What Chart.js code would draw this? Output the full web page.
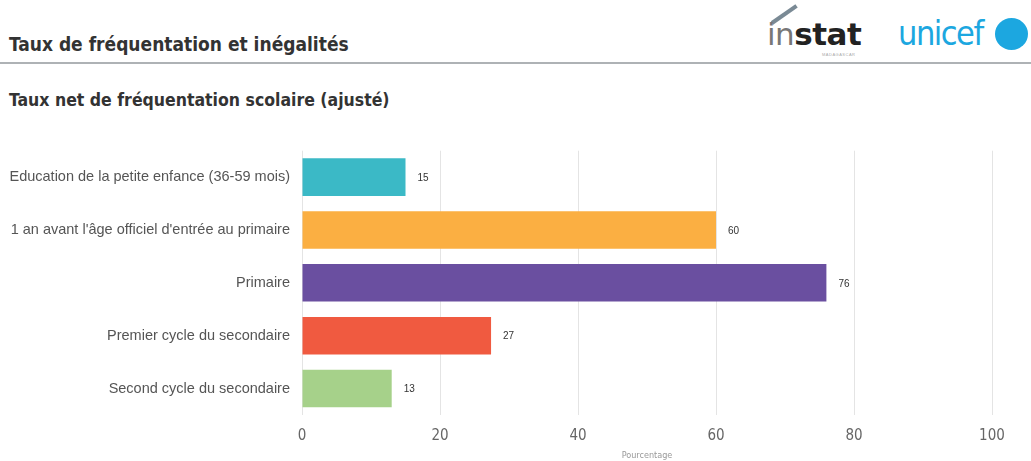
<!DOCTYPE html>
<html>
<head>
<meta charset="utf-8">
<script src="https://cdn.jsdelivr.net/npm/chart.js@4/dist/chart.umd.min.js"></script>
<style>
  html, body { margin: 0; padding: 0; background: #fff; }
  body { width: 1031px; height: 461px; position: relative; overflow: hidden; font-family: "Liberation Sans", Arial, sans-serif; }
  .titre { position: absolute; left: 9px; top: 33px; font: bold 19px "DejaVu Sans Condensed", sans-serif; color: #333; }
  .regle { position: absolute; left: 0; right: 0; top: 62px; height: 2px; background: #aeb2b5; }
  .soustitre { position: absolute; left: 9px; top: 90px; font: bold 17.5px "DejaVu Sans Condensed", sans-serif; color: #333; }
  .instat { position: absolute; left: 767px; top: 16px; font: bold 31px "DejaVu Sans", sans-serif; color: #222; letter-spacing: -0.5px; }
  .instat span { font-weight: normal; color: #777; }
  .instat small { position: absolute; left: 55px; top: 36px; font: 4px sans-serif; color: #aaa; letter-spacing: 0.5px; }
  .trait { position: absolute; left: 772px; top: 21px; width: 30px; height: 4px; background: #7a8a95; transform: rotate(-35deg); transform-origin: left center; }
  .unicef { position: absolute; left: 898px; top: 13px; font: 34px "DejaVu Sans Condensed", sans-serif; color: #1ca7e0; letter-spacing: -1.5px; }
  .embleme { position: absolute; left: 995px; top: 18px; width: 33px; height: 32px; border-radius: 50%; background: #1ca7e0; }
  #zone { position: absolute; left: 0; top: 130px; width: 1031px; height: 331px; }
</style>
</head>
<body>
<div class="titre">Taux de fréquentation et inégalités</div>
<div class="regle"></div>
<div class="soustitre">Taux net de fréquentation scolaire (ajusté)</div>
<div class="trait"></div>
<div class="instat"><span>in</span>stat<small>MADAGASCAR</small></div>
<div class="unicef">unicef</div>
<div class="embleme"></div>
<div id="zone"><canvas id="graphe"></canvas></div>
<script>
const categories = [
  'Education de la petite enfance (36-59 mois)',
  "1 an avant l'âge officiel d'entrée au primaire",
  'Primaire',
  'Premier cycle du secondaire',
  'Second cycle du secondaire'
];
const valeurs = [15, 60, 76, 27.4, 13];
const etiquettes = ['15', '60', '76', '27', '13'];
const couleurs = ['#3bb9c6', '#fbaf42', '#6a4fa0', '#f05a40', '#a6d18a'];
const ticksX = [0, 20, 40, 60, 80, 100];

// Valeurs affichées à droite des barres
const etiquettesBarres = {
  id: 'etiquettesBarres',
  afterDatasetsDraw(chart) {
    const ctx = chart.ctx;
    const meta = chart.getDatasetMeta(0);
    ctx.save();
    ctx.font = '10px "Liberation Sans", sans-serif';
    ctx.fillStyle = '#333';
    ctx.textBaseline = 'middle';
    meta.data.forEach(function(bar, i) {
      ctx.fillText(etiquettes[i], bar.x + 12, bar.y + 1);
    });
    ctx.restore();
  }
};

const ctx = document.getElementById('graphe').getContext('2d');
new Chart(ctx, {
  type: 'bar',
  data: {
    labels: categories,
    datasets: [{
      data: valeurs,
      backgroundColor: couleurs,
      borderWidth: 0,
      categoryPercentage: 1,
      barPercentage: 0.71
    }]
  },
  options: {
    indexAxis: 'y',
    responsive: true,
    maintainAspectRatio: false,
    animation: false,
    layout: { padding: { top: 18, right: 39, left: 0, bottom: 0 } },
    plugins: {
      legend: { display: false },
      tooltip: { enabled: false }
    },
    scales: {
      x: {
        min: 0,
        max: 100,
        afterBuildTicks: function(scale) {
          scale.ticks = ticksX.map(v => ({ value: v }));
        },
        grid: { color: '#e4e4e4', drawTicks: false, lineWidth: 1 },
        border: { display: false },
        ticks: {
          padding: 12,
          color: '#666',
          font: { family: '"DejaVu Sans Condensed", sans-serif', size: 15 }
        },
        title: {
          display: true,
          text: 'Pourcentage',
          color: '#999',
          padding: { top: 2, bottom: 0 },
          font: { family: '"DejaVu Sans Condensed", sans-serif', size: 9 }
        },
        afterFit: function(scale) { scale.height = 46; }
      },
      y: {
        grid: { display: false, drawTicks: false },
        border: { display: false },
        ticks: {
          padding: 12,
          color: '#555',
          font: { family: '"Liberation Sans", Arial, sans-serif', size: 14.5 }
        },
        afterFit: function(scale) { scale.width = 302; }
      }
    }
  },
  plugins: [etiquettesBarres]
});
</script>
</body>
</html>
